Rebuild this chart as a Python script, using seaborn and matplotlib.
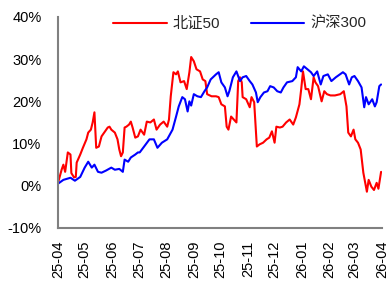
import pandas as pd
import matplotlib
matplotlib.use("Agg")
import matplotlib.pyplot as plt
import matplotlib.dates as mdates
from matplotlib.ticker import FuncFormatter
import seaborn as sns

# 北证50 (cumulative return, %)
bz_dates = ["2025-04-01", "2025-04-05", "2025-04-07", "2025-04-09", "2025-04-12", "2025-04-15",
            "2025-04-16", "2025-04-19", "2025-04-21", "2025-04-22", "2025-04-26", "2025-04-29",
            "2025-05-03", "2025-05-05", "2025-05-08", "2025-05-10", "2025-05-12", "2025-05-14",
            "2025-05-17", "2025-05-20", "2025-05-23", "2025-05-27", "2025-05-29", "2025-05-31",
            "2025-06-04", "2025-06-07", "2025-06-09", "2025-06-11", "2025-06-13", "2025-06-15",
            "2025-06-17", "2025-06-20", "2025-06-22", "2025-06-24", "2025-06-27", "2025-06-30",
            "2025-07-03", "2025-07-07", "2025-07-10", "2025-07-14", "2025-07-18", "2025-07-21",
            "2025-07-25", "2025-07-29", "2025-08-02", "2025-08-04", "2025-08-06", "2025-08-09",
            "2025-08-12", "2025-08-14", "2025-08-17", "2025-08-21", "2025-08-24", "2025-08-27",
            "2025-08-29", "2025-09-01", "2025-09-04", "2025-09-08", "2025-09-11", "2025-09-14",
            "2025-09-16", "2025-09-21", "2025-09-26", "2025-09-29", "2025-10-02", "2025-10-06",
            "2025-10-08", "2025-10-10", "2025-10-13", "2025-10-16", "2025-10-19", "2025-10-21",
            "2025-10-23", "2025-10-25", "2025-10-26", "2025-10-30", "2025-11-03", "2025-11-05",
            "2025-11-08", "2025-11-11", "2025-11-14", "2025-11-18", "2025-11-22", "2025-11-25",
            "2025-11-28", "2025-12-01", "2025-12-03", "2025-12-07", "2025-12-10", "2025-12-14",
            "2025-12-18", "2025-12-22", "2025-12-25", "2025-12-29", "2025-12-31", "2026-01-02",
            "2026-01-05", "2026-01-08", "2026-01-11", "2026-01-14", "2026-01-16", "2026-01-19",
            "2026-01-23", "2026-01-26", "2026-01-29", "2026-02-02", "2026-02-07", "2026-02-13",
            "2026-02-17", "2026-02-20", "2026-02-22", "2026-02-25", "2026-02-28", "2026-03-02",
            "2026-03-05", "2026-03-08", "2026-03-11", "2026-03-15", "2026-03-17", "2026-03-20",
            "2026-03-23", "2026-03-26", "2026-03-28", "2026-03-31"]
bz_values = [0.7, 3.8, 5.0, 3.3, 7.9, 7.4,
             3.0, 2.0, 2.1, 5.5, 7.4, 9.0,
             11.0, 12.6, 13.3, 15.0, 17.4, 9.0,
             9.3, 11.7, 12.6, 13.8, 14.0, 13.3,
             12.6, 11.0, 8.6, 7.0, 7.9, 13.8,
             14.0, 14.5, 15.2, 13.8, 11.4, 11.7,
             13.3, 12.1, 15.2, 15.0, 15.7, 13.3,
             14.5, 15.2, 14.0, 15.7, 21.2, 26.9,
             26.4, 27.1, 24.5, 24.8, 22.9, 26.9,
             30.5, 29.5, 27.6, 27.1, 25.2, 24.8,
             21.7, 21.2, 21.2, 21.0, 19.3, 18.8,
             14.0, 13.3, 16.4, 15.7, 15.0, 24.8,
             25.7, 24.5, 21.0, 20.5, 18.6, 21.0,
             19.8, 9.3, 9.8, 10.2, 11.0, 11.4,
             12.9, 10.2, 14.0, 13.8, 14.0, 15.0,
             15.7, 14.5, 16.2, 19.3, 22.9, 27.1,
             22.9, 22.9, 20.5, 25.7, 24.5, 23.6,
             20.0, 22.4, 21.7, 21.4, 21.4, 21.7,
             22.4, 18.8, 12.6, 11.7, 13.3, 11.0,
             10.2, 8.6, 3.1, -1.4, 1.4, -0.2,
             -1.0, 0.7, -0.7, 3.3]

# 沪深300 (cumulative return, %)
hs_dates = ["2025-04-01", "2025-04-07", "2025-04-15", "2025-04-20", "2025-04-26", "2025-05-01",
            "2025-05-05", "2025-05-09", "2025-05-12", "2025-05-16", "2025-05-20", "2025-05-25",
            "2025-05-31", "2025-06-04", "2025-06-09", "2025-06-13", "2025-06-15", "2025-06-19",
            "2025-06-22", "2025-06-27", "2025-06-30", "2025-07-02", "2025-07-07", "2025-07-13",
            "2025-07-18", "2025-07-22", "2025-07-27", "2025-08-02", "2025-08-08", "2025-08-12",
            "2025-08-15", "2025-08-19", "2025-08-22", "2025-08-25", "2025-08-27", "2025-08-29",
            "2025-09-01", "2025-09-05", "2025-09-09", "2025-09-13", "2025-09-16", "2025-09-20",
            "2025-09-26", "2025-09-29", "2025-10-02", "2025-10-06", "2025-10-09", "2025-10-11",
            "2025-10-15", "2025-10-19", "2025-10-23", "2025-10-26", "2025-10-30", "2025-11-03",
            "2025-11-06", "2025-11-10", "2025-11-12", "2025-11-15", "2025-11-19", "2025-11-23",
            "2025-11-26", "2025-11-30", "2025-12-04", "2025-12-08", "2025-12-11", "2025-12-15",
            "2025-12-21", "2025-12-25", "2025-12-27", "2025-12-31", "2026-01-03", "2026-01-07",
            "2026-01-11", "2026-01-14", "2026-01-18", "2026-01-22", "2026-01-25", "2026-01-30",
            "2026-02-03", "2026-02-08", "2026-02-16", "2026-02-19", "2026-02-23", "2026-02-26",
            "2026-03-01", "2026-03-05", "2026-03-09", "2026-03-12", "2026-03-14", "2026-03-17",
            "2026-03-21", "2026-03-24", "2026-03-26", "2026-03-29", "2026-03-31"]
hs_values = [0.5, 1.4, 1.9, 1.2, 2.1, 4.3,
             5.7, 4.3, 5.0, 3.3, 3.1, 3.6,
             4.3, 3.8, 4.0, 3.3, 6.2, 5.7,
             6.7, 7.4, 7.9, 7.9, 9.3, 11.0,
             11.0, 9.0, 10.2, 11.0, 13.3, 16.4,
             18.8, 21.0, 20.5, 17.6, 20.0, 19.0,
             21.7, 21.2, 21.0, 22.4, 23.3, 25.2,
             26.4, 26.9, 24.5, 23.3, 21.2, 22.4,
             25.7, 27.1, 24.8, 25.7, 26.0, 24.8,
             24.0, 22.1, 19.8, 21.0, 22.1, 22.4,
             23.6, 23.3, 22.4, 22.1, 23.3, 24.5,
             24.8, 25.7, 28.1, 27.1, 28.3, 27.6,
             26.9, 26.0, 27.1, 24.0, 26.0, 26.4,
             24.8, 25.7, 26.9, 26.4, 24.0, 25.7,
             26.0, 24.8, 23.3, 18.6, 21.0, 19.3,
             20.5, 18.8, 19.8, 23.6, 24.0]

series_names = ["北证50", "沪深300"]
series_colors = ["#FF0000", "#0000FF"]

df = pd.concat([
    pd.DataFrame({"date": pd.to_datetime(bz_dates), "value": bz_values, "name": series_names[0]}),
    pd.DataFrame({"date": pd.to_datetime(hs_dates), "value": hs_values, "name": series_names[1]}),
])

sns.set_style("white")
plt.rcParams["font.family"] = ["Liberation Sans", "Noto Sans CJK SC", "DejaVu Sans"]

fig = plt.figure(figsize=(3.87, 2.82), dpi=100)
ax = fig.add_axes([0.150, 0.1915, 0.837, 0.7485])

sns.lineplot(data=df, x="date", y="value", hue="name", hue_order=series_names,
             palette=series_colors, linewidth=1.5, ax=ax)

ax.set_xlim(pd.Timestamp("2025-04-01"), pd.Timestamp("2026-04-01"))
ax.set_ylim(-10, 40)
ax.set_yticks([-10, 0, 10, 20, 30, 40])
ax.yaxis.set_major_formatter(FuncFormatter(lambda v, p: f"{v:.0f}%"))
ax.xaxis.set_major_locator(mdates.MonthLocator())
ax.xaxis.set_major_formatter(mdates.DateFormatter("%y-%m"))
ax.set_xlabel("")
ax.set_ylabel("")

for s in ["top", "right"]:
    ax.spines[s].set_visible(False)
for s in ["left", "bottom"]:
    ax.spines[s].set_color("#808080")
    ax.spines[s].set_linewidth(1.5)

ax.tick_params(axis="both", which="both", direction="out", length=4, width=1.5,
               color="#808080", labelsize=10.5, labelcolor="#000000")
ax.tick_params(axis="y", pad=8)
ax.tick_params(axis="x", pad=5, labelrotation=90)

ax.legend(loc="upper left", bbox_to_anchor=(0.17, 1.0), ncol=2, frameon=False,
          fontsize=11, handlelength=3.5, handletextpad=0.4, columnspacing=2.0,
          borderpad=0, borderaxespad=0)

fig.savefig("out.png", dpi=100)
